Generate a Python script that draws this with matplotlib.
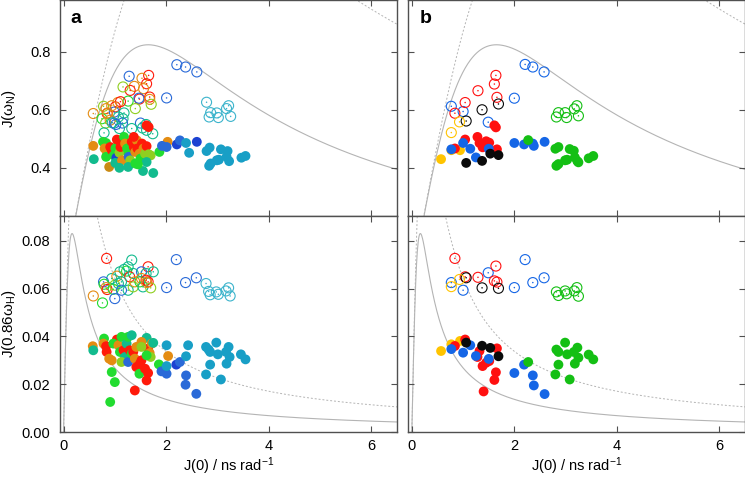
import numpy as np
import matplotlib.pyplot as plt

plt.rcParams['font.family'] = ['Liberation Sans', 'DejaVu Sans']
plt.rcParams['mathtext.fontset'] = 'custom'
plt.rcParams['mathtext.rm'] = 'Liberation Sans'
plt.rcParams['mathtext.it'] = 'Liberation Sans:italic'

# ---------------- panel a (colour = position code) ----------------
# J(0) vs J(wN), filled symbols
a_top_fill_x = [0.58, 0.59, 0.77, 0.83, 0.80, 0.85, 0.83, 0.89, 0.91, 0.94, 1.01, 0.98,
                1.03, 1.01, 1.07, 1.04, 1.09, 1.11, 1.14, 1.09, 1.18, 1.20, 1.24, 1.27,
                1.27, 1.30, 1.26, 1.33, 1.37, 1.40, 1.43, 1.37, 1.44, 1.48, 1.50, 1.53,
                1.56, 1.59, 1.62, 1.66, 1.70, 1.62, 1.55, 1.75, 1.45, 1.62, 1.66, 1.87,
                2.03, 1.40, 1.92, 2.01, 2.21, 2.27, 2.39, 2.45, 2.60, 2.79, 2.85, 2.84,
                2.87, 2.99, 3.03, 3.07, 3.20, 3.18, 3.23, 3.47, 3.55]
a_top_fill_y = [0.475, 0.429, 0.489, 0.485, 0.466, 0.448, 0.437, 0.402, 0.471, 0.460, 0.466, 0.442,
                0.434, 0.416, 0.483, 0.497, 0.451, 0.471, 0.425, 0.399, 0.506, 0.483, 0.466, 0.448,
                0.437, 0.425, 0.402, 0.489, 0.471, 0.454, 0.494, 0.506, 0.466, 0.448, 0.431, 0.483,
                0.466, 0.448, 0.474, 0.446, 0.442, 0.419, 0.388, 0.381, 0.411, 0.546, 0.540, 0.454,
                0.489, 0.414, 0.475, 0.471, 0.480, 0.494, 0.485, 0.451, 0.489, 0.457, 0.469, 0.406,
                0.414, 0.425, 0.427, 0.463, 0.457, 0.437, 0.422, 0.434, 0.440]
a_top_fill_c = ['o', 't', 'g', 'g', 'o', 'o', 'g', 'do', 'r', 'r', 'g', 'g',
                'db', 't', 'g', 'r', 'yg', 'r', 'o', 't', 'g', 'o', 'g', 'g',
                'b', 'yg', 't', 'r', 'r', 'o', 'o', 'r', 'r', 'o', 'g', 'r',
                'o', 'yg', 'r', 'yg', 'yg', 't', 't', 't', 'g', 'r', 'r', 'g',
                'o', 'g', 'b', 'b', 'db', 'b', 'tb', 'tb', 'db', 'tb', 'tb', 'tb',
                'tb', 'tb', 'tb', 'tb', 'tb', 'tb', 'tb', 'tb', 'tb']

# J(0) vs J(wN), open symbols
a_top_open_x = [0.58, 1.28, 1.66, 1.53, 1.62, 1.38, 1.30, 1.16, 1.56, 1.48, 1.47, 1.68,
                1.68, 1.71, 1.26, 1.40, 1.06, 1.01, 0.78, 0.83, 0.85, 0.99, 1.18, 1.07,
                0.75, 0.82, 0.91, 0.99, 1.16, 1.15, 1.50, 1.54, 1.33, 1.09, 0.79, 1.61,
                1.74, 1.62, 2.01, 2.21, 2.38, 2.60, 2.79, 2.87, 2.84, 2.99, 3.02, 3.18,
                3.22, 3.26, 1.11, 0.94, 0.86, 0.95, 1.02]
a_top_open_y = [0.587, 0.716, 0.719, 0.709, 0.690, 0.681, 0.667, 0.679, 0.673, 0.637, 0.640, 0.644,
                0.636, 0.619, 0.630, 0.604, 0.625, 0.610, 0.612, 0.604, 0.587, 0.592, 0.589, 0.575,
                0.569, 0.554, 0.564, 0.554, 0.569, 0.554, 0.554, 0.537, 0.535, 0.535, 0.520, 0.549,
                0.517, 0.529, 0.641, 0.756, 0.748, 0.731, 0.626, 0.590, 0.575, 0.589, 0.573, 0.604,
                0.614, 0.577, 0.628, 0.614, 0.589, 0.555, 0.549]
a_top_open_c = ['o', 'b', 'r', 'o', 'r', 'o', 'r', 'yg', 'o', 'r', 'b', 'r',
                'o', 'yg', 'g', 'yg', 'o', 'r', 'yg', 'o', 'r', 'b', 't', 't',
                'g', 'yg', 'o', 'b', 't', 'b', 'b', 't', 't', 't', 't', 't',
                't', 't', 'b', 'b', 'b', 'b', 'cy', 'cy', 'cy', 'cy', 'cy', 'cy',
                'cy', 'cy', 'r', 'o', 'o', 't', 'b']

# J(0) vs J(0.86wH), filled symbols
a_bot_fill_x = [0.57, 0.58, 0.79, 0.78, 0.83, 0.84, 0.89, 0.94, 0.94, 1.00, 0.91, 1.04,
                0.97, 1.07, 1.10, 1.13, 1.17, 1.20, 1.13, 1.23, 1.26, 1.33, 1.29, 1.26,
                1.33, 1.36, 1.39, 1.42, 1.42, 1.49, 1.52, 1.39, 1.48, 1.59, 1.62, 1.62,
                1.65, 1.65, 1.68, 1.72, 1.75, 1.70, 1.52, 1.52, 1.62, 1.86, 2.04, 2.01,
                1.91, 2.01, 2.01, 2.20, 2.27, 2.39, 2.43, 2.39, 2.38, 2.59, 2.78, 2.83,
                2.86, 2.98, 3.01, 3.17, 3.22, 3.24, 3.18, 3.46, 3.55, 2.78, 2.86, 3.07]
a_bot_fill_y = [0.0359, 0.0342, 0.0391, 0.0370, 0.0359, 0.0335, 0.0307, 0.0300, 0.0251, 0.0209, 0.0126, 0.0387,
                0.0370, 0.0363, 0.0335, 0.0398, 0.0342, 0.0314, 0.0293, 0.0370, 0.0398, 0.0405, 0.0342, 0.0293,
                0.0328, 0.0335, 0.0307, 0.0356, 0.0272, 0.0286, 0.0300, 0.0174, 0.0244, 0.0265, 0.0394, 0.0216,
                0.0247, 0.0349, 0.0331, 0.0370, 0.0373, 0.0314, 0.0377, 0.0356, 0.0321, 0.0283, 0.0318, 0.0363,
                0.0254, 0.0244, 0.0276, 0.0282, 0.0293, 0.0317, 0.0363, 0.0237, 0.0198, 0.0160, 0.0356, 0.0345,
                0.0335, 0.0374, 0.0325, 0.0335, 0.0356, 0.0314, 0.0286, 0.0325, 0.0304, 0.0241, 0.0282, 0.0220]
a_bot_fill_c = ['o', 't', 'g', 'o', 'r', 'r', 'o', 'o', 'g', 'g', 'g', 'r',
                'g', 'o', 'g', 'g', 'r', 't', 'yg', 't', 'g', 't', 'r', 'b',
                'g', 'r', 'o', 'o', 'r', 'r', 'r', 'r', 'g', 'r', 't', 'r',
                'r', 'r', 'o', 'o', 't', 'yg', 'o', 'yg', 'g', 'g', 'o', 'tb',
                'b', 'b', 'tb', 'db', 'b', 'tb', 'tb', 'b', 'b', 'b', 'tb', 'tb',
                'tb', 'tb', 'tb', 'tb', 'tb', 'tb', 'tb', 'tb', 'tb', 'tb', 'tb', 'tb']

# J(0) vs J(0.86wH), open symbols
a_bot_open_x = [0.84, 1.33, 2.20, 1.26, 1.65, 1.75, 1.10, 1.18, 1.23, 1.52, 1.61, 0.94,
                1.04, 1.29, 1.36, 0.78, 0.79, 0.83, 0.85, 0.97, 1.00, 1.07, 1.13, 1.13,
                1.00, 1.26, 1.36, 1.39, 1.49, 1.52, 1.55, 1.61, 1.65, 1.70, 1.62, 0.58,
                0.76, 2.01, 2.38, 2.59, 2.78, 2.83, 2.86, 2.98, 3.02, 3.17, 3.22, 3.25]
a_bot_open_y = [0.0726, 0.0719, 0.0721, 0.0691, 0.0691, 0.0670, 0.0670, 0.0680, 0.0673, 0.0670, 0.0663, 0.0642,
                0.0652, 0.0649, 0.0663, 0.0628, 0.0618, 0.0604, 0.0596, 0.0597, 0.0614, 0.0621, 0.0628, 0.0593,
                0.0558, 0.0593, 0.0607, 0.0628, 0.0628, 0.0642, 0.0607, 0.0635, 0.0628, 0.0603, 0.0625, 0.0569,
                0.0540, 0.0604, 0.0625, 0.0645, 0.0621, 0.0588, 0.0574, 0.0586, 0.0576, 0.0590, 0.0603, 0.0569]
a_bot_open_c = ['r', 't', 'b', 't', 'r', 't', 't', 't', 'g', 'b', 't', 't',
                'o', 'r', 't', 'b', 'g', 'o', 'r', 'g', 'yg', 't', 't', 'b',
                'b', 't', 'yg', 'o', 'g', 'o', 't', 'r', 'r', 'yg', 'o', 'o',
                'g', 'b', 'b', 'b', 'cy', 'cy', 'cy', 'cy', 'cy', 'cy', 'cy', 'cy']

# ---------------- panel b (colour = group) ----------------
b_fill_x = [0.57, 0.77, 0.94,
            0.84, 1.04, 1.28, 1.32, 1.45, 1.51, 1.38, 1.40, 1.61, 1.64, 1.66,
            0.77, 1.00, 1.14, 1.25, 1.50, 2.00, 2.19, 2.36, 2.38, 2.59,
            1.06, 1.37, 1.53, 1.69,
            2.27, 2.80, 2.82, 2.86, 2.86, 2.99, 3.03, 3.08, 3.16, 3.18, 3.23, 3.25, 3.45, 3.54]
b_fill_n = [0.429, 0.460, 0.460,
            0.466, 0.497, 0.506, 0.485, 0.491, 0.486, 0.470, 0.478, 0.546, 0.539, 0.463,
            0.463, 0.485, 0.465, 0.435, 0.465, 0.485, 0.480, 0.483, 0.475, 0.489,
            0.416, 0.423, 0.448, 0.443,
            0.495, 0.465, 0.406, 0.471, 0.412, 0.425, 0.427, 0.464, 0.458, 0.435, 0.422, 0.418, 0.432, 0.440]
b_fill_h = [0.0339, 0.0367, 0.0381,
            0.0360, 0.0387, 0.0314, 0.0339, 0.0290, 0.0297, 0.0276, 0.0170, 0.0218, 0.0250, 0.0350,
            0.0347, 0.0332, 0.0363, 0.0318, 0.0306, 0.0247, 0.0282, 0.0237, 0.0195, 0.0159,
            0.0374, 0.0361, 0.0352, 0.0317,
            0.0293, 0.0241, 0.0345, 0.0335, 0.0282, 0.0374, 0.0325, 0.0220, 0.0335, 0.0286, 0.0353, 0.0311, 0.0324, 0.0304]
b_fill_g = (['yellow'] * 3 + ['red'] * 11 + ['blue'] * 10 + ['black'] * 4 + ['green'] * 14)

b_open_x = [2.21, 2.36, 2.58, 2.00, 0.77, 1.00, 1.49,
            1.64, 1.61, 1.29, 1.66, 1.04, 0.84,
            1.37, 1.69, 1.06,
            0.93, 0.77,
            2.86, 2.82, 2.99, 3.02, 3.17, 3.22, 3.25]
b_open_n = [0.757, 0.748, 0.731, 0.640, 0.612, 0.594, 0.557,
            0.719, 0.689, 0.666, 0.643, 0.625, 0.588,
            0.600, 0.620, 0.561,
            0.558, 0.521,
            0.590, 0.575, 0.590, 0.573, 0.603, 0.614, 0.579]
b_open_h = [0.0721, 0.0625, 0.0645, 0.0604, 0.0625, 0.0593, 0.0666,
            0.0694, 0.0632, 0.0647, 0.0627, 0.0649, 0.0726,
            0.0603, 0.0601, 0.0645,
            0.0638, 0.0608,
            0.0571, 0.0586, 0.0590, 0.0578, 0.0590, 0.0604, 0.0568]
b_open_g = (['blue'] * 7 + ['red'] * 6 + ['black'] * 3 + ['yellow'] * 2 + ['green'] * 7)

# spectral density curve widths (peak positions)
tau_n_solid, tau_n_dashed = 1.65, 2.6
tau_h_solid, tau_h_dashed = 0.166, 0.262

a_colors = {'db': '#1c42d2', 'b': '#2a6ad8', 'tb': '#189fc6', 'cy': '#3cb4cc',
            't': '#12bb8e', 'g': '#22dc30', 'yg': '#8fcf20', 'o': '#e48c12',
            'do': '#c98a14', 'r': '#ff1a0a'}
b_colors = {'yellow': '#ffc400', 'red': '#ff1010', 'blue': '#1566e6',
            'black': '#0a0a0a', 'green': '#14bf14'}

LINE_C = '#b4b4b4'
SPINE_C = '#505050'


def lorentz(j0, width):
    return j0 / (1.0 + (j0 / width) ** 2)


def draw_points(ax, x, y, cols, filled):
    if filled:
        ax.scatter(x, y, s=50, c=cols, edgecolors='none', zorder=3)
    else:
        ax.scatter(x, y, s=52, facecolors='none', edgecolors=cols, linewidths=0.8, zorder=3)
        ax.scatter(x, y, s=1.2, c=cols, edgecolors='none', zorder=3)


def style(ax, ylim, yticks, xlabels, ylabels):
    ax.set_xlim(-0.07, 6.5)
    ax.set_ylim(*ylim)
    ax.set_xticks([0, 2, 4, 6])
    ax.set_yticks(yticks)
    ax.tick_params(direction='in', top=True, right=True, length=4, width=0.8,
                   color=SPINE_C, labelsize=10.5,
                   labelbottom=xlabels, labelleft=ylabels)
    ax.tick_params(axis='y', pad=7)
    ax.tick_params(axis='x', pad=5)
    for sp in ax.spines.values():
        sp.set_color(SPINE_C)
        sp.set_linewidth(1.0)


fig = plt.figure(figsize=(7.45, 4.78), dpi=100)
x0a, x0b, w = 0.0805, 0.548, 0.452
h = 0.452
axes = {
    'a_top': fig.add_axes([x0a, 0.548, w, h]),
    'a_bot': fig.add_axes([x0a, 0.096, w, h]),
    'b_top': fig.add_axes([x0b, 0.548, w, h]),
    'b_bot': fig.add_axes([x0b, 0.096, w, h]),
}

grid = np.linspace(0, 6.6, 800)
for key, ax in axes.items():
    if key.endswith('top'):
        ax.plot(grid, lorentz(grid, tau_n_solid), color=LINE_C, lw=0.8, zorder=1)
        ax.plot(grid, lorentz(grid, tau_n_dashed), color=LINE_C, lw=0.7,
                dashes=(2, 2), zorder=1)
    else:
        ax.plot(grid, lorentz(grid, tau_h_solid), color=LINE_C, lw=0.8, zorder=1)
        ax.plot(grid, lorentz(grid, tau_h_dashed), color=LINE_C, lw=0.7,
                dashes=(2, 2), zorder=1)

# panel a
ax = axes['a_top']
draw_points(ax, a_top_open_x, a_top_open_y, [a_colors[c] for c in a_top_open_c], False)
draw_points(ax, a_top_fill_x, a_top_fill_y, [a_colors[c] for c in a_top_fill_c], True)
style(ax, (0.232, 0.98), [0.4, 0.6, 0.8], False, True)
ax.set_ylabel('J(ω$_\\mathrm{N}$)', fontsize=11)
ax.yaxis.set_label_coords(-0.125, 0.5)
ax.text(0.03, 0.955, 'a', transform=ax.transAxes, fontsize=14, fontweight='bold', va='top')

ax = axes['a_bot']
draw_points(ax, a_bot_open_x, a_bot_open_y, [a_colors[c] for c in a_bot_open_c], False)
draw_points(ax, a_bot_fill_x, a_bot_fill_y, [a_colors[c] for c in a_bot_fill_c], True)
style(ax, (0.0, 0.0903), [0.0, 0.02, 0.04, 0.06, 0.08], True, True)
ax.yaxis.set_major_formatter(plt.FormatStrFormatter('%.2f'))
ax.set_ylabel('J(0.86ω$_\\mathrm{H}$)', fontsize=11)
ax.yaxis.set_label_coords(-0.125, 0.5)
ax.set_xlabel('J(0) / ns rad$^{-1}$', fontsize=10.5, labelpad=2)

# panel b
ax = axes['b_top']
draw_points(ax, b_open_x, b_open_n, [b_colors[g] for g in b_open_g], False)
draw_points(ax, b_fill_x, b_fill_n, [b_colors[g] for g in b_fill_g], True)
style(ax, (0.232, 0.98), [0.4, 0.6, 0.8], False, False)
ax.text(0.033, 0.955, 'b', transform=ax.transAxes, fontsize=14, fontweight='bold', va='top')

ax = axes['b_bot']
draw_points(ax, b_open_x, b_open_h, [b_colors[g] for g in b_open_g], False)
draw_points(ax, b_fill_x, b_fill_h, [b_colors[g] for g in b_fill_g], True)
style(ax, (0.0, 0.0903), [0.0, 0.02, 0.04, 0.06, 0.08], True, False)
ax.set_xlabel('J(0) / ns rad$^{-1}$', fontsize=10.5, labelpad=2)

fig.savefig('out.png', dpi=100)
